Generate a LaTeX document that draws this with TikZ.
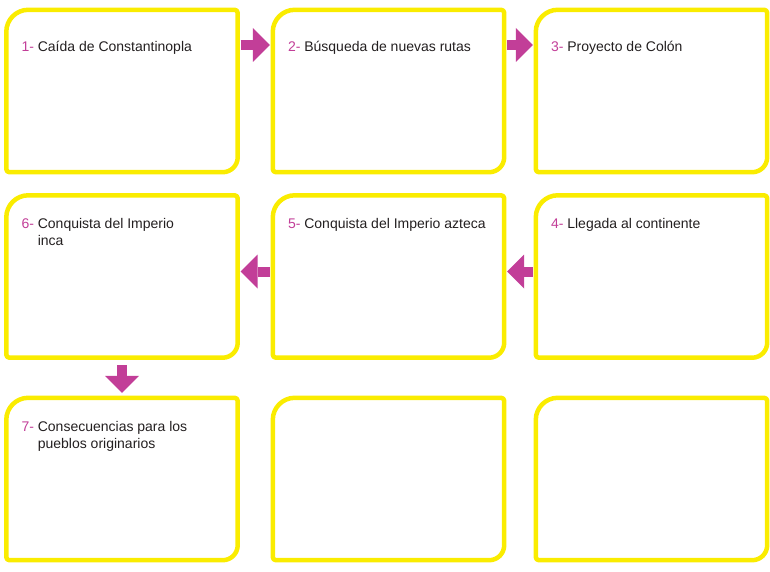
\documentclass[tikz,border=0pt]{standalone}
\usepackage{fontspec}
\setmainfont{Liberation Sans}
\usetikzlibrary{arrows.meta}
\definecolor{cardyellow}{RGB}{250,236,0}
\definecolor{flowpink}{RGB}{194,62,152}
\definecolor{textgray}{RGB}{35,31,32}
\newcommand{\stepnum}[1]{\textcolor{flowpink}{#1}}

\begin{document}
\begin{tikzpicture}
    \tikzset{card/.style={minimum width=231pt,minimum height=162pt,inner sep=0pt},
        cardline/.style={line width=4.5pt,draw=cardyellow,line join=round},
        cardtext/.style={anchor=base west,inner sep=0pt,align=left,text=textgray,font=\fontsize{14pt}{17pt}\selectfont},
        flow/.style={line width=10pt,draw=flowpink,-{Triangle[width=34pt,length=17pt,line width=0pt]},shorten <=3pt,shorten >=3pt}};
    \useasboundingbox (0,0) rectangle (770pt,-572pt);
    % the nine cards
    \node[card] (b1) at (122pt,-91pt) {};
    \node[card] (b2) at (388.5pt,-91pt) {};
    \node[card] (b3) at (651.5pt,-91pt) {};
    \node[card] (b4) at (651.5pt,-276.5pt) {};
    \node[card] (b5) at (388.5pt,-276.5pt) {};
    \node[card] (b6) at (122pt,-276.5pt) {};
    \node[card] (b7) at (122pt,-479pt) {};
    \node[card] (b8) at (388.5pt,-479pt) {};
    \node[card] (b9) at (651.5pt,-479pt) {};
    % arrows
    \draw[flow] ([yshift=46pt]b1.east) -- ([yshift=46pt]b2.west);
    \draw[flow] ([yshift=46pt]b2.east) -- ([yshift=46pt]b3.west);
    \draw[flow] ([yshift=5pt]b4.west) -- ([yshift=5pt]b5.east);
    \draw[flow] ([yshift=5pt]b5.west) -- ([yshift=5pt]b6.east);
    \draw[flow,shorten <=7.5pt,shorten >=5pt] (b6.south) -- (b7.north);
    % outlines: big round corner top left, smaller bottom right
    \foreach \b in {b1,b2,b3,b4,b5,b6,b7,b8,b9}
        \draw[cardline] ([yshift=-22pt]\b.north west) arc[start angle=180,end angle=90,radius=22pt]
            -- ([xshift=-3pt]\b.north east) arc[start angle=90,end angle=0,radius=3pt]
            -- ([yshift=15pt]\b.south east) arc[start angle=0,end angle=-90,radius=15pt]
            -- ([xshift=3pt]\b.south west) arc[start angle=270,end angle=180,radius=3pt] -- cycle;
    % titles
    \node[cardtext] (t1) at ([shift={(15pt,-42pt)}]b1.north west) {\stepnum{1-} Caída de Constantinopla};
    \node[cardtext] (t2) at ([shift={(15pt,-42pt)}]b2.north west) {\stepnum{2-} Búsqueda de nuevas rutas};
    \node[cardtext] (t3) at ([shift={(15pt,-42pt)}]b3.north west) {\stepnum{3-} Proyecto de Colón};
    \node[cardtext] (t4) at ([shift={(15pt,-33.5pt)}]b4.north west) {\stepnum{4-} Llegada al continente};
    \node[cardtext] (t5) at ([shift={(15pt,-33.5pt)}]b5.north west) {\stepnum{5-} Conquista del Imperio azteca};
    \node[cardtext] (t6) at ([shift={(15pt,-50.5pt)}]b6.north west) {\stepnum{6-} Conquista del Imperio\\\hphantom{6- }inca};
    \node[cardtext] (t7) at ([shift={(15pt,-51pt)}]b7.north west) {\stepnum{7-} Consecuencias para los\\\hphantom{7- }pueblos originarios};
\end{tikzpicture}
\end{document}
